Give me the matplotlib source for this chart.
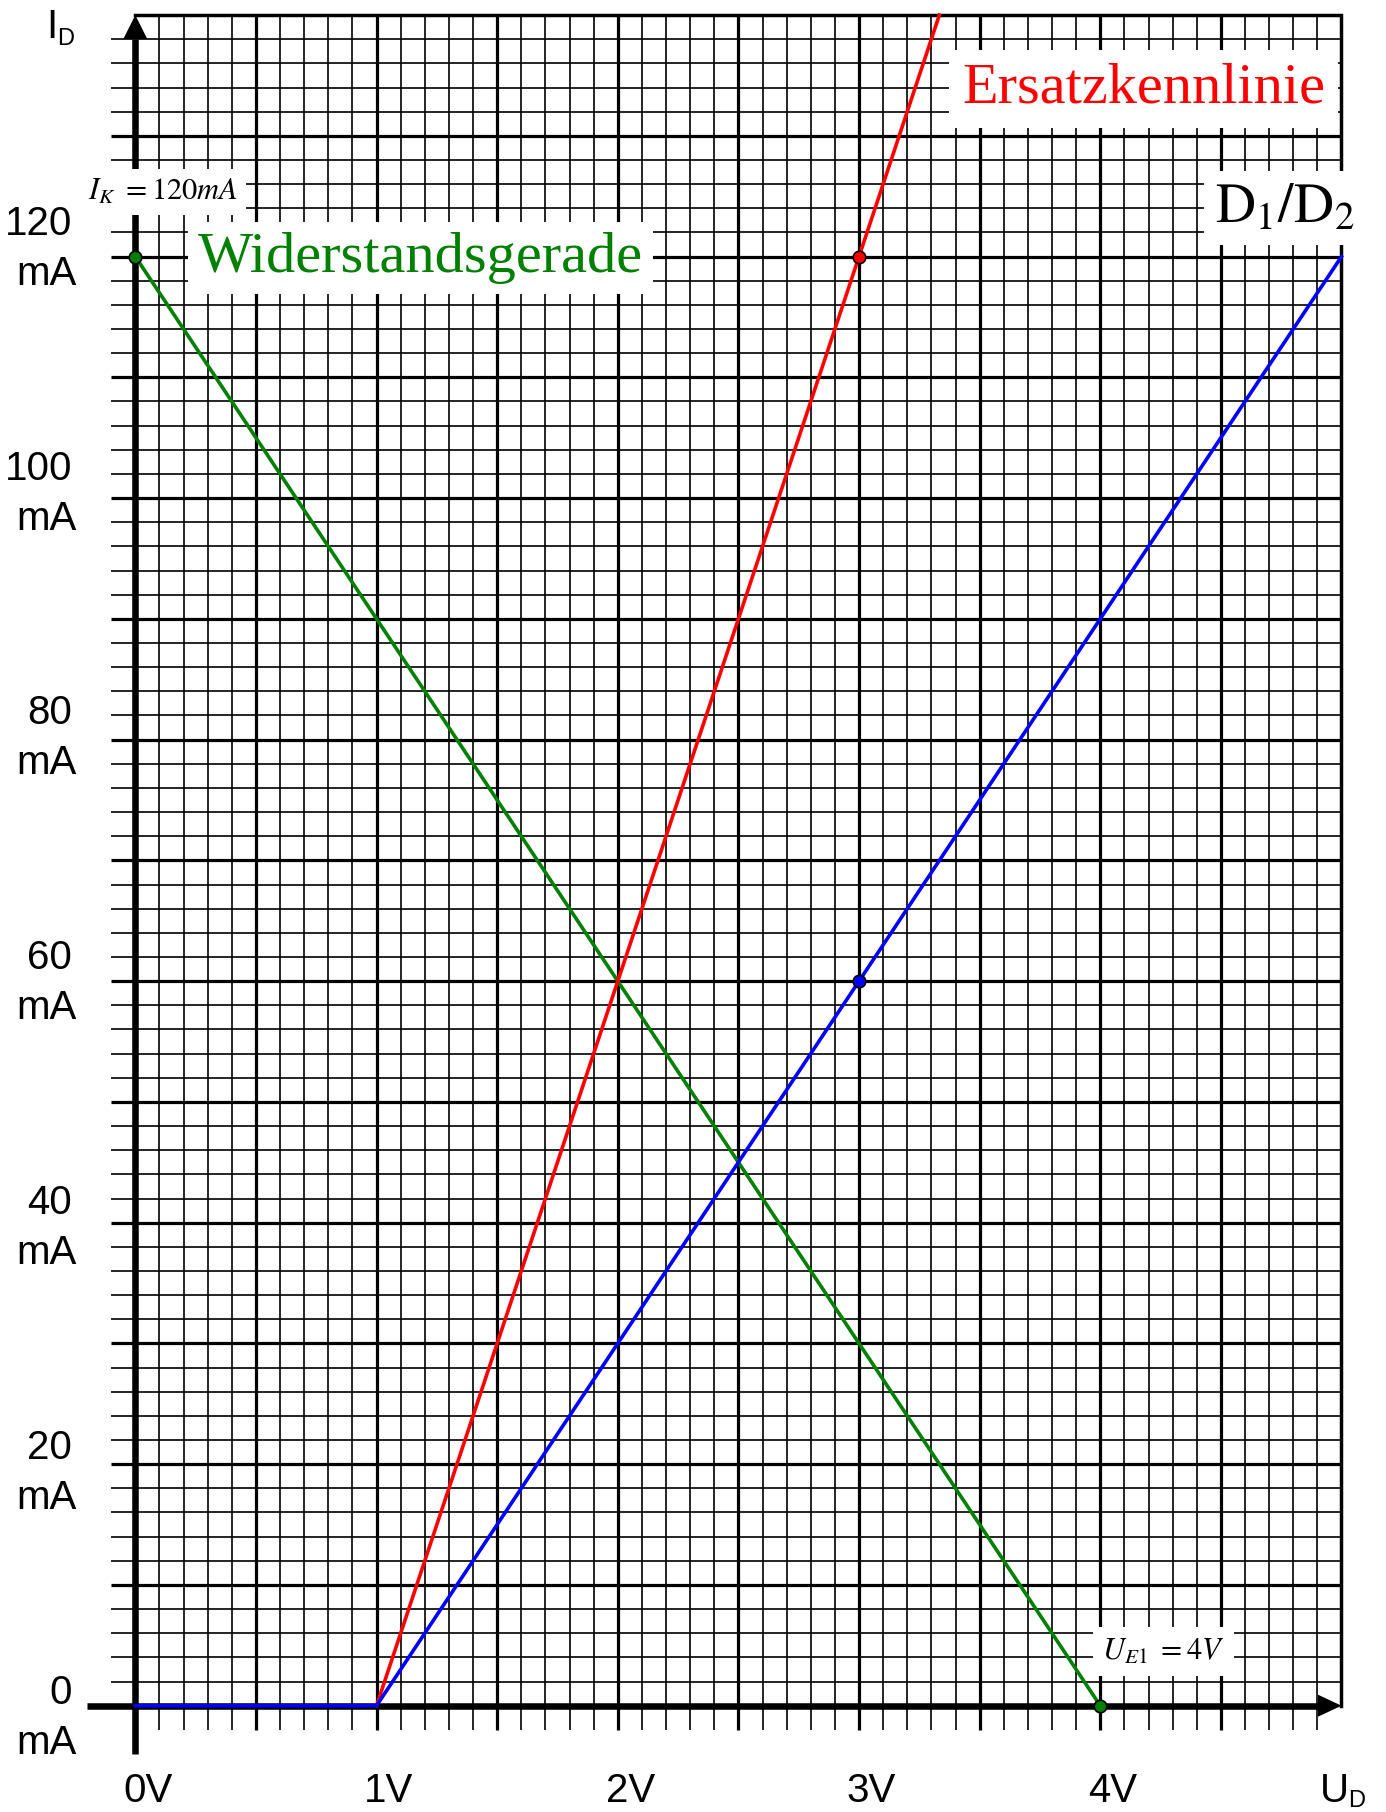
import numpy as np
import matplotlib
matplotlib.use('Agg')
import matplotlib.pyplot as plt
from matplotlib import rcParams

# ======================
# 1. Stil
# ======================
rcParams['font.family'] = ['Liberation Sans', 'DejaVu Sans']
rcParams['mathtext.fontset'] = 'stix'
SERIF = ['Liberation Serif', 'DejaVu Serif']

GRUEN = '#008000'
ROT = '#ff0000'
BLAU = '#0000ff'

# ======================
# 2. Daten
# ======================
# Widerstandsgerade
u_gerade = [0, 4]
i_gerade = [120, 0]
# Ersatzkennlinie
u_ersatz = [1, 3, 3.333]
i_ersatz = [0, 120, 140]
# Kennlinie D1/D2
u_diode = [0, 1, 5]
i_diode = [0, 0, 120]
# markierte Punkte
u_pkt_gerade = [0, 4]
i_pkt_gerade = [120, 0]
u_pkt_ersatz = [3]
i_pkt_ersatz = [120]
u_pkt_diode = [3]
i_pkt_diode = [60]

x_ticks = [0, 1, 2, 3, 4]
x_labels = ['0V', '1V', '2V', '3V', '4V']
y_ticks = [0, 20, 40, 60, 80, 100, 120]
y_labels = ['0', '20', '40', '60', '80', '100', '120']

U_MAX = 5
I_MAX = 140

# ======================
# 3. Achsen (ganze Abbildung = Millimeterpapier)
# ======================
W, H = 1386, 1812
X0, Y0 = 135.3, 1705.7      # Ursprung in Pixel
SX, SY = 241.24, 12.076     # Pixel pro V / pro mA

fig = plt.figure(figsize=(W / 100, H / 100), dpi=100)
fig.set_facecolor('white')
ax = fig.add_axes([0, 0, 1, 1])
ax.set_xlim(-X0 / SX, (W - X0) / SX)
ax.set_ylim(-(H - Y0) / SY, Y0 / SY)
ax.axis('off')


def px_u(p):
    return p / SX


def px_i(p):
    return p / SY


# Raster
u_fein = np.round(np.arange(0.1, U_MAX, 0.1), 1)
u_minor = [u for u in u_fein if round(u * 10) % 5 != 0]
u_major = [u for u in u_fein if round(u * 10) % 5 == 0]
i_fein = np.arange(2, I_MAX, 2)
i_minor = [i for i in i_fein if i % 10 != 0]
i_major = [i for i in i_fein if i % 10 == 0]

LW_MINOR, LW_MAJOR, LW_ACHSE = 1.2, 2.3, 4.7
ax.vlines(u_minor, -2, I_MAX, color='black', lw=LW_MINOR, zorder=1)
ax.hlines(i_minor, -0.1, U_MAX, color='black', lw=LW_MINOR, zorder=1)
ax.vlines(u_major, -2, I_MAX, color='black', lw=LW_MAJOR, zorder=1.5)
ax.hlines(i_major, -0.1, U_MAX, color='black', lw=LW_MAJOR, zorder=1.5)
ax.plot([0, U_MAX, U_MAX], [I_MAX, I_MAX, 0], color='black', lw=2.5,
        solid_joinstyle='miter', zorder=2)

# Achsen mit Pfeilen
kl_u, kb_i = px_u(23.5), px_i(11)
ax.plot([-0.2, U_MAX - kl_u], [0, 0], color='black', lw=LW_ACHSE,
        solid_capstyle='butt', zorder=3)
ax.fill([U_MAX, U_MAX - kl_u, U_MAX - kl_u], [0, kb_i, -kb_i],
        color='black', lw=0, zorder=3)
kl_i, kb_u = px_i(24), px_u(12)
ax.plot([0, 0], [-4, I_MAX - kl_i], color='black', lw=LW_ACHSE,
        solid_capstyle='butt', zorder=3)
ax.fill([0, -kb_u, kb_u], [I_MAX, I_MAX - kl_i, I_MAX - kl_i],
        color='black', lw=0, zorder=3)

# ======================
# 4. Kennlinien
# ======================
LW_KURVE = 2.6
ax.plot(u_gerade, i_gerade, color=GRUEN, lw=LW_KURVE, zorder=4)
ax.plot(u_ersatz, i_ersatz, color=ROT, lw=LW_KURVE, zorder=4)
ax.plot(u_diode, i_diode, color=BLAU, lw=LW_KURVE, zorder=4)

pkt = dict(marker='o', ms=9, mec='black', mew=1.2, ls='none', zorder=4.5)
ax.plot(u_pkt_gerade, i_pkt_gerade, mfc=GRUEN, **pkt)
ax.plot(u_pkt_ersatz, i_pkt_ersatz, mfc=ROT, **pkt)
ax.plot(u_pkt_diode, i_pkt_diode, mfc=BLAU, **pkt)

# ======================
# 5. Beschriftung
# ======================
FS = 29
for v, lab in zip(x_ticks, x_labels):
    ax.annotate(lab, xy=(v, 0), xytext=(12.5, -96), textcoords='offset pixels',
                ha='center', va='baseline', fontsize=FS)
for v, lab in zip(y_ticks, y_labels):
    dy = 2 + 0.165 * v
    ax.annotate(lab, xy=(0, v), xytext=(-63, dy), textcoords='offset pixels',
                ha='right', va='baseline', fontsize=FS)
    ax.annotate('mA', xy=(0, v), xytext=(-59, dy - 50), textcoords='offset pixels',
                ha='right', va='baseline', fontsize=FS)

# Achsennamen
ax.text(px_u(46 - X0), px_i(Y0 - 38), 'I', fontsize=29, ha='left', va='baseline')
ax.text(px_u(57 - X0), px_i(Y0 - 45), 'D', fontsize=17, ha='left', va='baseline')
ax.text(px_u(1320 - X0), px_i(Y0 - 1802), 'U', fontsize=FS, ha='left', va='baseline')
ax.text(px_u(1348 - X0), px_i(Y0 - 1807), 'D', fontsize=17, ha='left', va='baseline')

# Kurvennamen mit weissem Hintergrund
def box(pad):
    return dict(boxstyle=f'square,pad={pad}', facecolor='white', edgecolor='none')


ax.text(3.427, 132.72, 'Ersatzkennlinie', color=ROT, fontsize=42, family=SERIF,
        ha='left', va='baseline', bbox=box(0.22), zorder=5)
ax.text(0.2607, 118.72, 'Widerstandsgerade', color=GRUEN, fontsize=42, family=SERIF,
        ha='left', va='baseline', bbox=box(0.17), zorder=5)
ax.text(4.4756, 122.86, r'$\mathrm{D}_1/\mathrm{D}_2$', color='black', fontsize=40,
        ha='left', va='baseline', bbox=box(0.2), zorder=5)
ax.text(-0.196, 124.69, r'$I_K\ = 120mA$', color='black', fontsize=22,
        ha='left', va='baseline', bbox=box(0.25), zorder=5)
ax.text(4.007, 3.83, r'$U_{E1}\ = 4V$', color='black', fontsize=22,
        ha='left', va='baseline', bbox=box(0.3), zorder=5)

plt.savefig('out.png', dpi=100, facecolor='white')
